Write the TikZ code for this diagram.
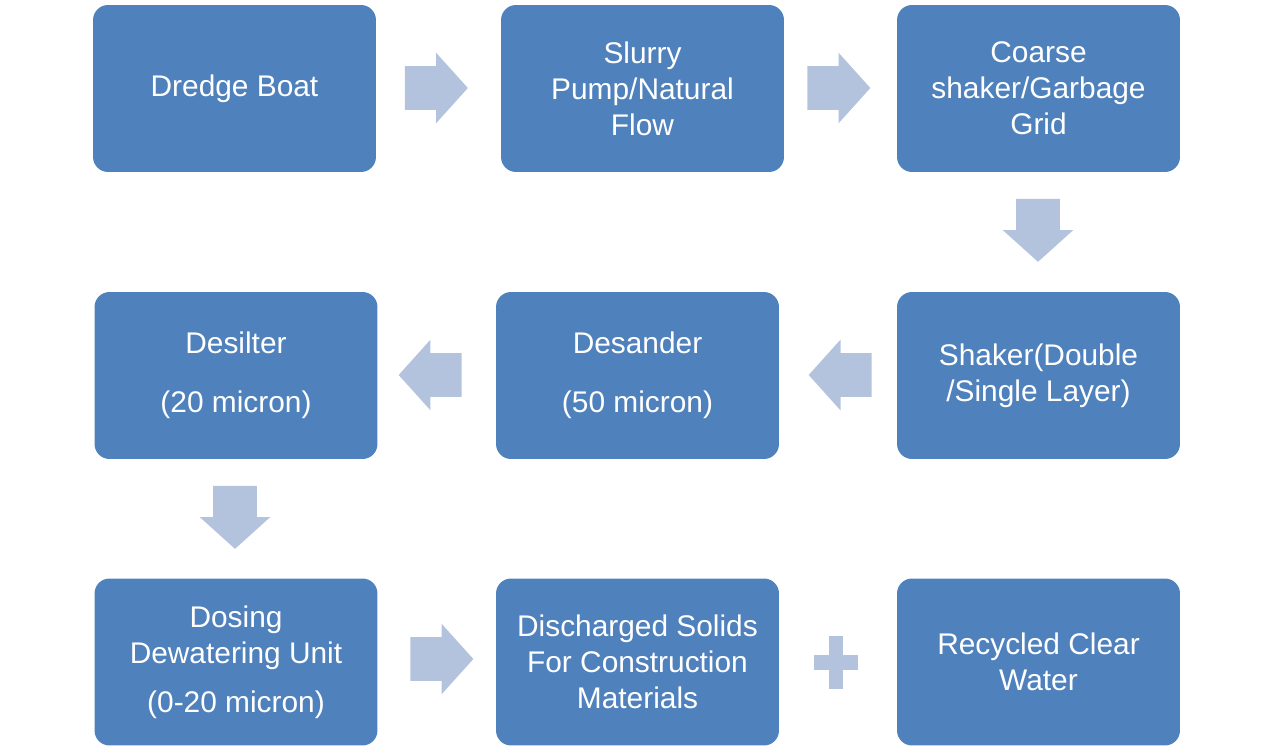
\documentclass[tikz,border=0pt]{standalone}
\usepackage{fontspec}
\setmainfont{Liberation Sans}
\usepackage{xcolor}
\usetikzlibrary{shapes.arrows}

\definecolor{boxblue}{HTML}{4F81BD}
\definecolor{arrowblue}{HTML}{B3C3DD}

\begin{document}
\begin{tikzpicture}[x=0.02cm, y=-0.02cm,
stage/.style={fill=boxblue, rounded corners=0.3cm, minimum width=5.66cm, minimum height=3.34cm,
  align=center, text=white, font=\fontsize{17}{20.4}\selectfont, inner sep=0pt},
flowarrow/.style={single arrow, fill=arrowblue, minimum height=1.26cm, minimum width=1.4cm,
  single arrow head extend=0.27cm, single arrow tip angle=96, inner xsep=0pt, inner ysep=0.43cm}]

\useasboundingbox (0,0) rectangle (1275,750);

\node[stage] (boat) at (234.5,88.5) {Dredge Boat};
\node[stage] (pump) at (642.5,88.5) {Slurry\\Pump/Natural\\Flow};
\node[stage] (coarse) at (1038.5,88.5) {Coarse\\shaker/Garbage\\Grid};

\node[stage] (desilter) at (236,375.5) {Desilter\\[0.46cm](20 micron)};
\node[stage] (desander) at (637.5,375.5) {Desander\\[0.46cm](50 micron)};
\node[stage] (shaker) at (1038.5,375.5) {Shaker(Double\\/Single Layer)};

\node[stage] (dosing) at (236,662) {Dosing\\Dewatering Unit\\[0.26cm](0-20 micron)};
\node[stage] (solids) at (637.5,662) {Discharged Solids\\For Construction\\Materials};
\node[stage] (water) at (1038.5,662) {Recycled Clear\\Water};

% block arrows between the stages
\node[flowarrow] (a1) at (426.5,88) {};
\node[flowarrow] (a2) at (829,88) {};
\node[flowarrow, rotate=-90] (a3) at (1038,220.5) {};
\node[flowarrow, rotate=180] (a4) at (850,375) {};
\node[flowarrow, rotate=180] (a5) at (440,375) {};
\node[flowarrow, rotate=-90] (a6) at (235,507.5) {};
\node[flowarrow] (a7) at (432,659) {};

% plus sign
\fill[arrowblue] (829,636) rectangle (843,689);
\fill[arrowblue] (814,655) rectangle (858,670);

\end{tikzpicture}
\end{document}
